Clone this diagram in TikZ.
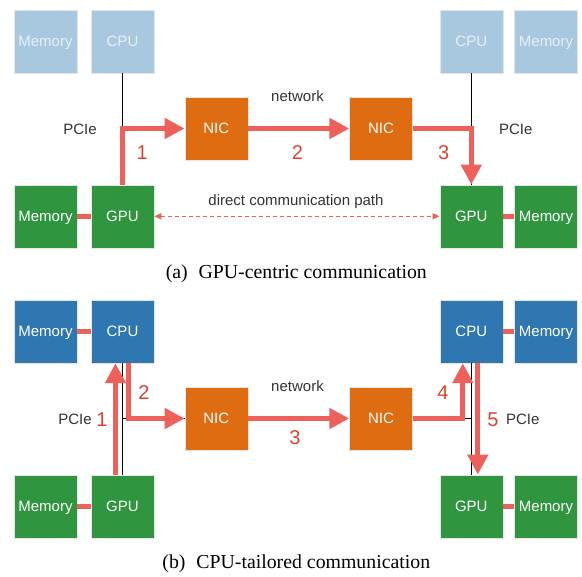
\documentclass[tikz,border=0pt]{standalone}
\usepackage{fontspec}
\setmainfont{Liberation Sans}
\newfontfamily\capfont{Liberation Serif}
\usetikzlibrary{arrows.meta,calc}
\definecolor{lblue}{HTML}{A8C8DF}
\definecolor{dblue}{HTML}{2E77B0}
\definecolor{ggreen}{HTML}{2F963F}
\definecolor{norange}{HTML}{E06C12}
\definecolor{redl}{HTML}{EE605A}
\definecolor{numred}{HTML}{DD432F}
\definecolor{lbltext}{HTML}{E6EFF6}
\definecolor{lblgray}{HTML}{333333}
\begin{document}
\begin{tikzpicture}[x=1pt,y=-1pt,
  box/.style={minimum width=63pt,minimum height=63pt,inner sep=0pt,
    font=\fontsize{15}{18}\selectfont,text height=10.8pt,text depth=0pt,
    text=white,draw=black!10,line width=0.5pt},
  lightbox/.style={box,fill=lblue,text=lbltext},
  cpubox/.style={box,fill=dblue},
  gpubox/.style={box,fill=ggreen},
  nicbox/.style={box,fill=norange},
  lbl/.style={font=\fontsize{15}{18}\selectfont,text=lblgray,inner sep=0pt},
  num/.style={font=\fontsize{20}{24}\selectfont,text=numred,inner sep=0pt,anchor=base},
  redline/.style={draw=redl,line width=5pt},
  redarrow/.style={redline,-{Triangle[length=20pt,width=20pt]}},
  bus/.style={draw=black,line width=0.9pt},
  dashline/.style={draw=redl,line width=1.3pt,dash pattern=on 4pt off 3pt,
    {Triangle[length=7pt,width=6pt]}-{Triangle[length=7pt,width=6pt]}},
  captext/.style={font=\capfont\fontsize{19.8}{24}\selectfont,inner sep=0pt,anchor=base}
]
\useasboundingbox (0,0) rectangle (582,577);

% ---------- (a) ----------
\node[lightbox] (MemTLa) at (45.5,41.3) {Memory};
\node[lightbox] (CPUla) at (122.5,41.3) {CPU};
\node[lightbox] (CPUra) at (471.3,41.3) {CPU};
\node[lightbox] (MemTRa) at (546,41.3) {Memory};
\node[nicbox] (NICla) at (216.3,128.5) {NIC};
\node[nicbox] (NICra) at (381,128.5) {NIC};
\node[gpubox] (MemBLa) at (45.5,216.3) {Memory};
\node[gpubox] (GPUla) at (122.5,216.3) {GPU};
\node[gpubox] (GPUra) at (471.3,216.3) {GPU};
\node[gpubox] (MemBRa) at (546,216.3) {Memory};

\draw[bus] (CPUla.south) -- (GPUla.north);
\draw[bus] (CPUra.south) -- (GPUra.north);
\draw[redline] (MemBLa.east) -- (GPUla.west);
\draw[redline] (GPUra.east) -- (MemBRa.west);
\draw[redarrow] (GPUla.north) |- (NICla.west);
\draw[redarrow] (NICla.east) -- (NICra.west);
\draw[redarrow] (NICra.east) -| (GPUra.north);
\draw[dashline] (GPUla.east) -- (GPUra.west);

\node[lbl] (PCIela) at (80,129) {PCIe};
\node[lbl] (PCIera) at (515.7,129) {PCIe};
\node[lbl,anchor=base] (neta) at (297.5,102) {network};
\node[lbl,anchor=base] (directa) at (296,206) {direct communication path};
\node[num] (n1a) at (142.3,159.3) {1};
\node[num] (n2a) at (297.5,159.3) {2};
\node[num] (n3a) at (443.7,159.3) {3};
\node[captext] (capa) at (296.3,279) {(a)\hspace{0.55em}GPU-centric communication};

% ---------- (b) ----------
\node[cpubox] (MemTLb) at (45.5,331.5) {Memory};
\node[cpubox] (CPUlb) at (122.5,331.5) {CPU};
\node[cpubox] (CPUrb) at (471.3,331.5) {CPU};
\node[cpubox] (MemTRb) at (546,331.5) {Memory};
\node[nicbox] (NIClb) at (216.3,418.5) {NIC};
\node[nicbox] (NICrb) at (381,418.5) {NIC};
\node[gpubox] (MemBLb) at (45.5,506.3) {Memory};
\node[gpubox] (GPUlb) at (122.5,506.3) {GPU};
\node[gpubox] (GPUrb) at (471.3,506.3) {GPU};
\node[gpubox] (MemBRb) at (546,506.3) {Memory};

\draw[bus] (CPUlb.south) -- (GPUlb.north);
\draw[bus] (CPUrb.south) -- (GPUrb.north);
\draw[bus] (CPUlb.south |- NIClb.west) -- (NIClb.west);
\draw[bus] (NICrb.east) -- (CPUrb.south |- NICrb.east);
\draw[redline] (MemTLb.east) -- (CPUlb.west);
\draw[redline] (CPUrb.east) -- (MemTRb.west);
\draw[redline] (MemBLb.east) -- (GPUlb.west);
\draw[redline] (GPUrb.east) -- (MemBRb.west);
\draw[redarrow] ([xshift=-7pt]GPUlb.north) -- ([xshift=-7pt]CPUlb.south);
\draw[redarrow] ([xshift=6pt]CPUlb.south) |- (NIClb.west);
\draw[redarrow] (NIClb.east) -- (NICrb.west);
\draw[redarrow] (NICrb.east) -| ([xshift=-8.5pt]CPUrb.south);
\draw[redarrow] ([xshift=6.5pt]CPUrb.south) -- ([xshift=6.5pt]GPUrb.north);

\node[lbl] (PCIelb) at (75,419.5) {PCIe};
\node[lbl] (PCIerb) at (522.7,419.5) {PCIe};
\node[lbl,anchor=base] (netb) at (297.5,391.7) {network};
\node[num] (n1b) at (102,426.7) {1};
\node[num] (n2b) at (144,400) {2};
\node[num] (n3b) at (295,445) {3};
\node[num] (n4b) at (443,400) {4};
\node[num] (n5b) at (493,426.7) {5};
\node[captext] (capb) at (296.3,569) {(b)\hspace{0.55em}CPU-tailored communication};
\end{tikzpicture}
\end{document}
